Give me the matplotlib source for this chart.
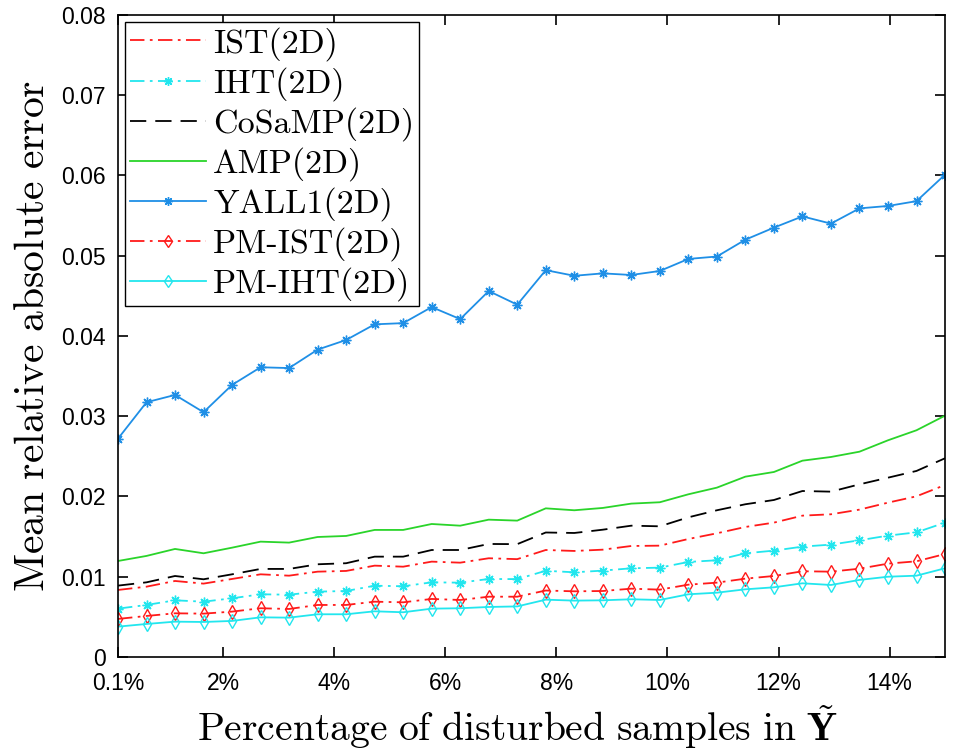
import numpy as np
import matplotlib
matplotlib.use('Agg')
import matplotlib.pyplot as plt

plt.rcParams['mathtext.fontset'] = 'cm'

x = np.linspace(0.1, 15, 30)

ist = [0.00835, 0.00876, 0.00947, 0.00914, 0.00972, 0.0103, 0.01013, 0.01063, 0.01072, 0.01138,
       0.01125, 0.01188, 0.01175, 0.0123, 0.01219, 0.01333, 0.01321, 0.01337, 0.01383, 0.01387,
       0.0147, 0.01541, 0.0162, 0.01674, 0.01761, 0.01778, 0.01836, 0.01923, 0.02002, 0.02143]
iht = [0.00602, 0.00648, 0.00706, 0.00689, 0.00731, 0.00781, 0.00776, 0.00814, 0.00822, 0.00888,
       0.00881, 0.0093, 0.00926, 0.00972, 0.0097, 0.01074, 0.01055, 0.01076, 0.01105, 0.01113,
       0.01184, 0.01205, 0.01292, 0.01325, 0.01375, 0.014, 0.01454, 0.01512, 0.01553, 0.01674]
cosamp = [0.00889, 0.0093, 0.01009, 0.00968, 0.0103, 0.01097, 0.01097, 0.01155, 0.01168, 0.0125,
          0.0125, 0.01333, 0.01333, 0.01408, 0.01406, 0.01551, 0.01545, 0.01586, 0.01636, 0.01628,
          0.0174, 0.01828, 0.01903, 0.01956, 0.02068, 0.0206, 0.02151, 0.02234, 0.02318, 0.02476]
amp = [0.01196, 0.01259, 0.01346, 0.01292, 0.01362, 0.01437, 0.01425, 0.01495, 0.01508, 0.01583,
       0.01583, 0.01657, 0.01636, 0.01711, 0.01699, 0.01852, 0.01828, 0.01857, 0.01911, 0.01928,
       0.02027, 0.0211, 0.02247, 0.02305, 0.02446, 0.02492, 0.02558, 0.027, 0.02825, 0.03007]
yall1 = [0.0272, 0.03174, 0.03265, 0.0305, 0.0339, 0.0361, 0.036, 0.0383, 0.0395, 0.04145,
         0.0416, 0.0436, 0.0421, 0.0456, 0.0439, 0.0482, 0.0475, 0.0478, 0.0476, 0.0481,
         0.0496, 0.0499, 0.052, 0.0535, 0.0549, 0.054, 0.0559, 0.0562, 0.0568, 0.0601]
pm_ist = [0.00474, 0.00511, 0.00544, 0.0054, 0.00565, 0.00607, 0.00598, 0.00648, 0.00648, 0.00689,
          0.00681, 0.00723, 0.0071, 0.00751, 0.00751, 0.00828, 0.00818, 0.00822, 0.00851, 0.00839,
          0.00901, 0.00926, 0.00976, 0.01009, 0.01068, 0.01063, 0.011, 0.01163, 0.01192, 0.01283]
pm_iht = [0.00378, 0.00411, 0.0044, 0.00436, 0.00449, 0.00494, 0.0049, 0.00532, 0.00532, 0.00569,
          0.00557, 0.00602, 0.00607, 0.00623, 0.0063, 0.00714, 0.00702, 0.00706, 0.00719, 0.0071,
          0.00781, 0.00801, 0.00843, 0.00868, 0.00918, 0.00897, 0.0096, 0.01, 0.01013, 0.01105]

xticks = [0.1, 2, 4, 6, 8, 10, 12, 14]
xticklabels = ['0.1%', '2%', '4%', '6%', '8%', '10%', '12%', '14%']
yticks = [0, 0.01, 0.02, 0.03, 0.04, 0.05, 0.06, 0.07, 0.08]
yticklabels = ['0', '0.01', '0.02', '0.03', '0.04', '0.05', '0.06', '0.07', '0.08']

red = '#ff1a1a'
cyan = '#22e6ee'
dashdot = (0, (8, 3, 1.5, 3))
asterisk = (8, 2, 0)

fig = plt.figure(figsize=(9.6, 7.56), dpi=100)
ax = fig.add_axes([0.1229, 0.131, 0.8615, 0.8492])

ax.plot(x, ist, color=red, linestyle=dashdot, lw=1.3, label='IST(2D)')
ax.plot(x, iht, color=cyan, linestyle=dashdot, lw=1.3, marker=asterisk, ms=7, mew=1.0,
        label='IHT(2D)')
ax.plot(x, cosamp, color='black', linestyle=(0, (9, 5)), lw=1.3, label='CoSaMP(2D)')
ax.plot(x, amp, color='#2ad42a', linestyle='-', lw=1.3, label='AMP(2D)')
ax.plot(x, yall1, color='#1f8fe6', linestyle='-', lw=1.3, marker=asterisk, ms=7, mew=1.0,
        label='YALL1(2D)')
ax.plot(x, pm_ist, color=red, linestyle=dashdot, lw=1.3, marker='d', ms=7,
        mfc='none', label='PM-IST(2D)')
ax.plot(x, pm_iht, color=cyan, linestyle='-', lw=1.3, marker='d', ms=7,
        mfc='none', label='PM-IHT(2D)')

ax.set_xlim(0.1, 15)
ax.set_ylim(0, 0.08)
ax.set_xticks(xticks)
ax.set_xticklabels(xticklabels)
ax.set_yticks(yticks)
ax.set_yticklabels(yticklabels)
ax.tick_params(direction='in', top=True, right=True, length=7, width=1.2,
               labelsize=16.5)
ax.tick_params(axis='x', pad=11)
ax.tick_params(axis='y', pad=9)
for lab in ax.get_xticklabels() + ax.get_yticklabels():
    lab.set_family(['Liberation Sans', 'DejaVu Sans'])
for s in ax.spines.values():
    s.set_linewidth(1.2)

ax.set_xlabel(r'$\mathrm{Percentage\ of\ disturbed\ samples\ in\ }\tilde{\mathbf{Y}}$',
              fontsize=28.5)
ax.xaxis.set_label_coords(0.483, -0.072, transform=ax.transAxes)
ax.xaxis.label.set_va('top')
ax.set_ylabel(r'$\mathrm{Mean\ relative\ absolute\ error}$', fontsize=30, labelpad=6)

leg = ax.legend(loc='upper left', prop={'family': 'cmr10', 'size': 24.5},
                fancybox=False, framealpha=1, edgecolor='black', handlelength=2.25,
                handletextpad=0.2, labelspacing=0.18, borderpad=0.13,
                borderaxespad=0.22, markerscale=0.9)
leg.get_frame().set_linewidth(1.0)

fig.savefig('out.png', dpi=100)
